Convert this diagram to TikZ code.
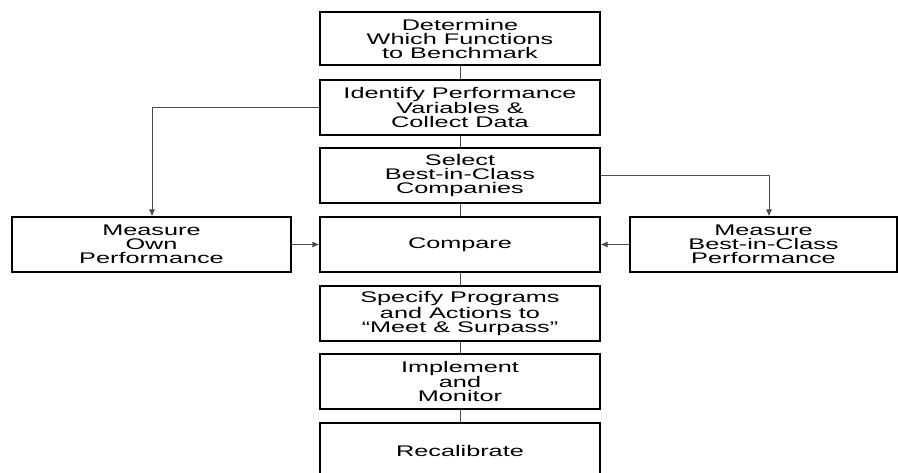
\documentclass[tikz,border=0pt]{standalone}
\usepackage{fontspec}
\setmainfont[FakeStretch=1.64]{Liberation Sans}
\usetikzlibrary{arrows.meta}
\begin{document}
\begin{tikzpicture}[x=1pt,y=-1pt,
  box/.style={draw=black, line width=1.1pt, rectangle, align=center, inner sep=0pt,
    font=\fontsize{15.4}{14}\selectfont, text=black},
  conn/.style={draw=black!70, line width=0.8pt},
  arr/.style={conn, -{Latex[length=7pt,width=6pt]}}]
\useasboundingbox (0,0) rectangle (898,472);
\clip (0,0) rectangle (898,472);
\node[box, minimum width=280, minimum height=53] (b1) at (460,38.5) {Determine\\Which Functions\\to Benchmark};
\node[box, minimum width=280, minimum height=55] (b2) at (460,107.5) {Identify Performance\\Variables \&\\Collect Data};
\node[box, minimum width=280, minimum height=55] (b3) at (460,175.5) {Select\\Best-in-Class\\Companies};
\node[box, minimum width=280, minimum height=55] (b4) at (460,244.5) {Compare};
\node[box, minimum width=280, minimum height=55] (b5) at (460,313.5) {Specify Programs\\and Actions to\\“Meet \& Surpass”};
\node[box, minimum width=280, minimum height=55] (b6) at (460,381.5) {Implement\\and\\Monitor};
\node[box, minimum width=280, minimum height=55] (b7) at (460,450.5) {Recalibrate};
\node[box, minimum width=279, minimum height=55] (own) at (151.5,244.5) {Measure\\Own\\Performance};
\node[box, minimum width=267, minimum height=55] (bic) at (763.5,244.5) {Measure\\Best-in-Class\\Performance};
\coordinate (c1) at (152,107.5);
\coordinate (c2) at (769,175.5);
\draw[conn] (b1) -- (b2);
\draw[conn] (b2) -- (b3);
\draw[conn] (b3) -- (b4);
\draw[conn] (b4) -- (b5);
\draw[conn] (b5) -- (b6);
\draw[conn] (b6) -- (b7);
\draw[arr] (b2.west) -- (c1) -- (c1 |- own.north);
\draw[arr] (b3.east) -- (c2) -- (c2 |- bic.north);
\draw[arr] (own.east) -- (b4.west);
\draw[arr] (bic.west) -- (b4.east);
\end{tikzpicture}
\end{document}
